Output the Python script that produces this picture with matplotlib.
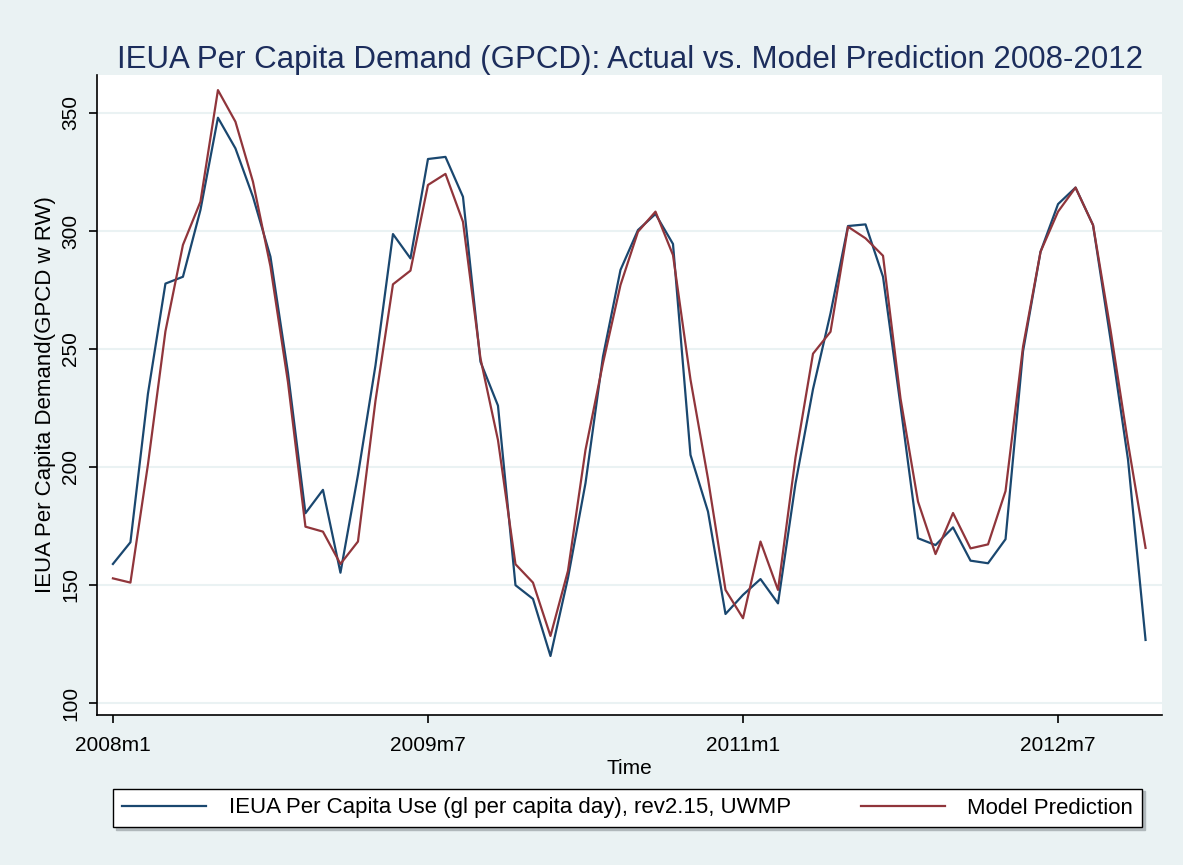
import numpy as np
import matplotlib
matplotlib.use("Agg")
import matplotlib.pyplot as plt

plt.rcParams['font.family'] = ['Liberation Sans', 'DejaVu Sans']

# monthly series, 2008m1 .. 2012m12
actual = [158.9, 168.1, 231.0, 277.7, 280.6, 308.9, 348.0, 335.0, 314.5, 289.1,
          240.0, 180.4, 190.3, 155.2, 196.6, 243.0, 298.7, 288.4, 330.5, 331.4,
          314.5, 244.6, 226.0, 149.9, 144.1, 119.9, 153.0, 193.1, 246.8, 283.5,
          300.4, 307.2, 294.5, 205.1, 181.1, 137.7, 145.8, 152.5, 142.2, 193.0,
          233.0, 265.1, 302.1, 302.8, 280.6, 226.0, 169.8, 166.9, 174.4, 160.3,
          159.2, 169.4, 249.0, 291.2, 311.4, 318.4, 302.5, 254.0, 203.0, 126.7]
model = [152.8, 151.0, 201.0, 257.5, 294.1, 312.4, 359.7, 346.3, 320.9, 285.0,
         236.0, 174.7, 172.6, 158.9, 168.4, 228.0, 277.4, 283.2, 319.5, 324.2,
         303.9, 246.0, 211.4, 158.8, 151.0, 128.4, 156.0, 207.2, 244.0, 277.1,
         299.7, 308.2, 289.8, 237.0, 195.0, 147.9, 135.9, 168.4, 147.9, 204.0,
         248.0, 257.3, 301.8, 296.9, 289.5, 229.0, 185.3, 163.1, 180.5, 165.5,
         167.2, 189.8, 251.0, 291.2, 308.2, 318.4, 302.5, 258.0, 210.0, 165.7]
tick_months = [0, 18, 36, 54]
tick_labels = ['2008m1', '2009m7', '2011m1', '2012m7']
y_ticks = [100, 150, 200, 250, 300, 350]

months = np.arange(len(actual))

bg = '#eaf2f3'
navy = '#1a476f'
maroon = '#90353b'

fig = plt.figure(figsize=(11.83, 8.65), dpi=100, facecolor=bg)
ax = fig.add_axes([97 / 1183, 1 - 715 / 865, (1162 - 97) / 1183, (715 - 75) / 865])
ax.set_facecolor('white')

ax.plot(months, actual, color=navy, lw=1.6,
        label='IEUA Per Capita Use (gl per capita day), rev2.15, UWMP')
ax.plot(months, model, color=maroon, lw=1.6, label='Model Prediction')

ax.set_xlim(-0.91, 59.94)
ax.set_ylim(94.9, 366.1)

ax.set_yticks(y_ticks)
ax.set_yticklabels([str(v) for v in y_ticks], rotation=90, va='center')
ax.set_xticks(tick_months)
ax.set_xticklabels(tick_labels)
ax.tick_params(axis='both', labelsize=15, length=6, width=1.2, color='black')
ax.tick_params(axis='y', pad=6)
ax.tick_params(axis='x', pad=9)

ax.grid(axis='y', color=bg, lw=1.5)
ax.set_axisbelow(True)

for side in ['top', 'right']:
    ax.spines[side].set_visible(False)
for side in ['left', 'bottom']:
    ax.spines[side].set_linewidth(1.2)

ax.set_xlabel('Time', fontsize=15, labelpad=3)
ax.set_ylabel('IEUA Per Capita Demand(GPCD w RW)', fontsize=16, labelpad=4)

fig.text(630 / 1183, 1 - 68 / 865,
         'IEUA Per Capita Demand (GPCD): Actual vs. Model Prediction 2008-2012',
         ha='center', va='baseline', fontsize=22.5, color='#1c2d5c')

leg = ax.legend(loc='center', ncol=2, fontsize=16, frameon=True,
                bbox_to_anchor=(113 / 1183, 1 - 828 / 865, (1142 - 113) / 1183, 40 / 865),
                bbox_transform=fig.transFigure, mode='expand',
                handlelength=3.8, handletextpad=1.0, borderaxespad=0,
                fancybox=False, edgecolor='black', shadow={'color': '#b0b8bb', 'alpha': 1})
leg.get_frame().set_linewidth(1.0)

fig.savefig('out.png', dpi=100, facecolor=bg)
